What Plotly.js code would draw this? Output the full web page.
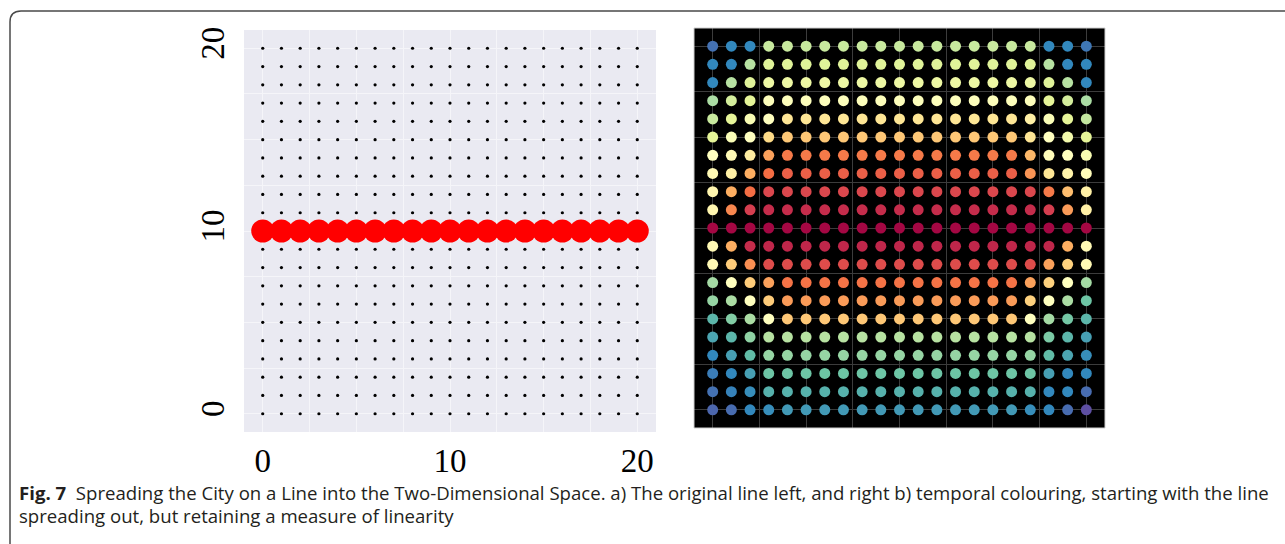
<!DOCTYPE html>
<html>
<head>
<meta charset="utf-8">
<script src="https://cdn.plot.ly/plotly-3.0.1.min.js"></script>
<style>html,body{margin:0;padding:0;background:#fff;}#chart{width:1285px;height:544px;}</style>
</head>
<body>
<div id="chart"></div>
<script>
// ---- data ----
const gridX = [0,1,2,3,4,5,6,7,8,9,10,11,12,13,14,15,16,17,18,19,20];
const gridY = [20,19,18,17,16,15,14,13,12,11,10,9,8,7,6,5,4,3,2,1,0];
const lineX = [0,1,2,3,4,5,6,7,8,9,10,11,12,13,14,15,16,17,18,19,20];
const lineY = [10,10,10,10,10,10,10,10,10,10,10,10,10,10,10,10,10,10,10,10,10];
const tickVals = [0,10,20];
const tickText = ['0','10','20'];
// temporal colour value (0 = first reached, 1 = last), rows follow gridY (top to bottom), columns follow gridX
const temporal = [
  [0.94,0.90,0.90,0.65,0.65,0.65,0.65,0.65,0.65,0.65,0.65,0.65,0.65,0.65,0.65,0.65,0.65,0.65,0.90,0.90,0.93],
  [0.90,0.90,0.68,0.61,0.61,0.61,0.61,0.61,0.61,0.61,0.61,0.61,0.61,0.61,0.61,0.61,0.61,0.61,0.68,0.90,0.90],
  [0.90,0.68,0.61,0.57,0.57,0.57,0.57,0.57,0.57,0.57,0.57,0.57,0.57,0.57,0.57,0.57,0.57,0.57,0.61,0.68,0.90],
  [0.70,0.63,0.60,0.51,0.51,0.51,0.51,0.51,0.51,0.51,0.51,0.51,0.51,0.51,0.51,0.51,0.51,0.51,0.60,0.63,0.70],
  [0.65,0.60,0.53,0.50,0.42,0.42,0.42,0.42,0.42,0.42,0.42,0.42,0.42,0.42,0.42,0.42,0.42,0.45,0.52,0.60,0.66],
  [0.60,0.52,0.50,0.39,0.35,0.35,0.35,0.35,0.35,0.35,0.35,0.35,0.35,0.35,0.35,0.35,0.35,0.42,0.50,0.55,0.60],
  [0.50,0.48,0.44,0.28,0.22,0.22,0.22,0.22,0.22,0.22,0.22,0.22,0.22,0.22,0.22,0.22,0.22,0.32,0.49,0.50,0.53],
  [0.48,0.45,0.30,0.20,0.17,0.17,0.17,0.17,0.17,0.17,0.17,0.17,0.17,0.17,0.17,0.17,0.17,0.26,0.42,0.46,0.49],
  [0.47,0.30,0.20,0.12,0.12,0.12,0.12,0.12,0.12,0.12,0.12,0.12,0.12,0.12,0.12,0.12,0.12,0.12,0.22,0.33,0.45],
  [0.47,0.24,0.10,0.07,0.07,0.07,0.07,0.07,0.07,0.07,0.07,0.07,0.07,0.07,0.07,0.07,0.07,0.07,0.10,0.27,0.45],
  [0.01,0.01,0.01,0.01,0.01,0.01,0.01,0.01,0.01,0.01,0.01,0.01,0.01,0.01,0.01,0.01,0.01,0.01,0.01,0.01,0.01],
  [0.48,0.30,0.07,0.06,0.06,0.06,0.06,0.06,0.06,0.06,0.06,0.06,0.06,0.06,0.06,0.06,0.06,0.06,0.06,0.30,0.48],
  [0.48,0.36,0.25,0.13,0.13,0.13,0.13,0.13,0.13,0.13,0.13,0.13,0.13,0.13,0.13,0.13,0.13,0.13,0.28,0.37,0.48],
  [0.71,0.50,0.36,0.28,0.21,0.21,0.21,0.21,0.21,0.21,0.21,0.21,0.21,0.21,0.21,0.21,0.21,0.28,0.37,0.50,0.71],
  [0.73,0.70,0.50,0.36,0.27,0.27,0.27,0.27,0.27,0.27,0.27,0.27,0.27,0.27,0.27,0.27,0.27,0.37,0.50,0.70,0.79],
  [0.82,0.76,0.70,0.50,0.35,0.35,0.35,0.35,0.35,0.35,0.35,0.35,0.35,0.35,0.35,0.35,0.35,0.50,0.71,0.78,0.82],
  [0.85,0.82,0.74,0.68,0.68,0.68,0.68,0.68,0.68,0.68,0.68,0.68,0.68,0.68,0.68,0.68,0.68,0.68,0.77,0.82,0.86],
  [0.90,0.86,0.81,0.73,0.73,0.73,0.73,0.73,0.73,0.73,0.73,0.73,0.73,0.73,0.73,0.73,0.73,0.73,0.81,0.85,0.89],
  [0.92,0.90,0.86,0.79,0.79,0.79,0.79,0.79,0.79,0.79,0.79,0.79,0.79,0.79,0.79,0.79,0.79,0.79,0.86,0.90,0.90],
  [0.94,0.91,0.89,0.83,0.83,0.83,0.83,0.83,0.83,0.83,0.83,0.83,0.83,0.83,0.83,0.83,0.83,0.83,0.90,0.90,0.95],
  [0.96,0.95,0.90,0.89,0.87,0.87,0.87,0.87,0.87,0.87,0.87,0.87,0.87,0.87,0.87,0.87,0.87,0.89,0.90,0.95,1.00]
];
const captionLine1 = '<b>Fig. 7</b>  Spreading the City on a Line into the Two-Dimensional Space. a) The original line left, and right b) temporal colouring, starting with the line';
const captionLine2 = 'spreading out, but retaining a measure of linearity';

// ---- build tables ----
const px = [], py = [], pc = [];
gridY.forEach((yv, r) => gridX.forEach((xv, c) => { px.push(xv); py.push(yv); pc.push(temporal[r][c]); }));

const spectral = [
  [0.0,'#9e0142'],[0.1,'#d53e4f'],[0.2,'#f46d43'],[0.3,'#fdae61'],[0.4,'#fee08b'],[0.5,'#ffffbf'],
  [0.6,'#e6f598'],[0.7,'#abdda4'],[0.8,'#66c2a5'],[0.9,'#3288bd'],[1.0,'#5e4fa2']
];

const traces = [
  {type:'scatter', mode:'markers', x:px, y:py, xaxis:'x', yaxis:'y',
   marker:{color:'#000', size:3.2}, hoverinfo:'skip', showlegend:false},
  {type:'scatter', mode:'markers', x:lineX, y:lineY, xaxis:'x', yaxis:'y',
   marker:{color:'#ff0000', size:23}, hoverinfo:'skip', showlegend:false},
  {type:'scatter', mode:'markers', x:px, y:py, xaxis:'x2', yaxis:'y2',
   marker:{color:pc, colorscale:spectral, cmin:0, cmax:1, size:11, showscale:false}, hoverinfo:'skip', showlegend:false}
];

const W = 1285, H = 544;
const pxX = v => v / W, pxY = v => 1 - v / H;
const serif = {family:'"Liberation Serif", "DejaVu Serif", serif', size:33, color:'#000'};
const capFont = {family:'"Open Sans", "Noto Sans", sans-serif', size:18.6, color:'#231f20'};

const layout = {
  width:W, height:H, margin:{l:0,r:0,t:0,b:0},
  paper_bgcolor:'#ffffff', plot_bgcolor:'rgba(0,0,0,0)',
  showlegend:false,
  xaxis:{domain:[pxX(244), pxX(656)], range:[-1,21], tickvals:tickVals, ticktext:tickText,
         showgrid:true, gridcolor:'#f5f5f9', gridwidth:1, zeroline:false, showline:false, ticks:'',
         ticklabelstandoff:6, tickfont:serif,
         minor:{tick0:0, dtick:2.5, showgrid:true, gridcolor:'#f5f5f9', gridwidth:1}},
  yaxis:{domain:[pxY(432), pxY(30)], range:[-1,21], tickvals:tickVals, ticktext:tickText,
         showgrid:true, gridcolor:'#f5f5f9', gridwidth:1, zeroline:false, showline:false, ticks:'',
         tickangle:-90, ticklabelstandoff:12, tickfont:serif,
         minor:{tick0:0, dtick:2.5, showgrid:true, gridcolor:'#f5f5f9', gridwidth:1}},
  xaxis2:{domain:[pxX(694), pxX(1105)], range:[-1,21], anchor:'y2', tick0:0, dtick:2.5,
          showticklabels:false, ticks:'', showgrid:true, gridcolor:'#3c3c3c', gridwidth:1, zeroline:false, showline:false},
  yaxis2:{domain:[pxY(428), pxY(28)], range:[-1,21], anchor:'x2', tick0:0, dtick:2.5,
          showticklabels:false, ticks:'', showgrid:true, gridcolor:'#3c3c3c', gridwidth:1, zeroline:false, showline:false},
  shapes:[
    {type:'rect', xref:'x domain', yref:'y domain', x0:0, x1:1, y0:0, y1:1, fillcolor:'#eaeaf2', line:{width:0}, layer:'below'},
    {type:'rect', xref:'x2 domain', yref:'y2 domain', x0:0, x1:1, y0:0, y1:1, fillcolor:'#000000', line:{width:0}, layer:'below'},
    {type:'rect', xref:'x2 domain', yref:'y2 domain', x0:0, x1:1, y0:0, y1:1, line:{width:1, color:'#cfcfcf'}, layer:'above'},
    {type:'path', xref:'paper', yref:'paper', layer:'above',
     path:`M ${pxX(10)},${pxY(560)} L ${pxX(10)},${pxY(22)} Q ${pxX(10)},${pxY(11)} ${pxX(21)},${pxY(11)} L ${pxX(1300)},${pxY(11)}`,
     line:{color:'#4a4a4a', width:1.5}}
  ],
  annotations:[
    {xref:'paper', yref:'paper', x:pxX(17), y:pxY(492), xanchor:'left', yanchor:'middle', showarrow:false,
     text:captionLine1, font:capFont},
    {xref:'paper', yref:'paper', x:pxX(17), y:pxY(515), xanchor:'left', yanchor:'middle', showarrow:false,
     text:captionLine2, font:capFont}
  ]
};

Plotly.newPlot('chart', traces, layout, {displayModeBar:false, staticPlot:true});
</script>
</body>
</html>
